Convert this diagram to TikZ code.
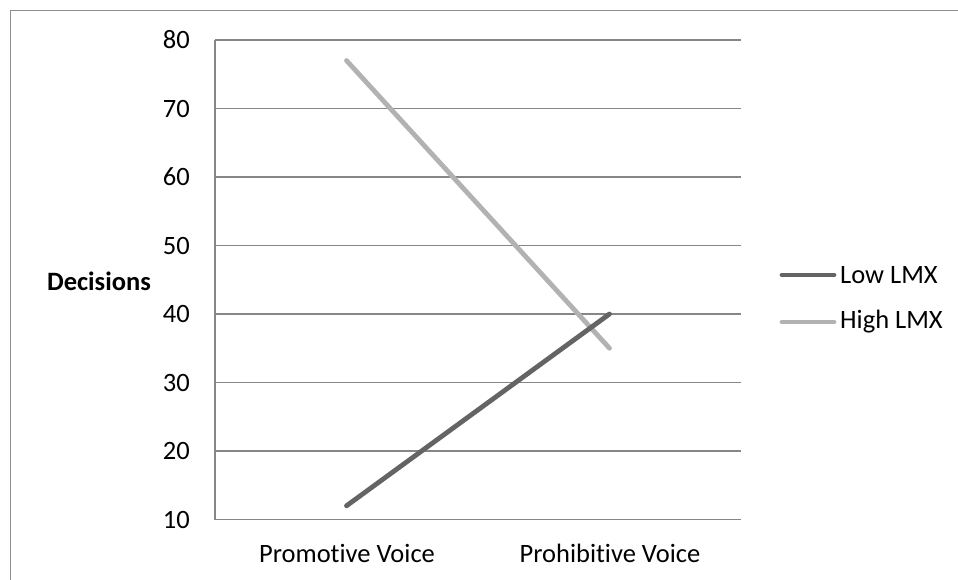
\documentclass[tikz,border=0pt]{standalone}
\usepackage{fontspec}
\setmainfont[RawFeature={-liga;-clig;-dlig}]{Carlito}
\definecolor{gridc}{HTML}{868686}
\definecolor{framec}{HTML}{8E8E8E}
\definecolor{lowc}{HTML}{646464}
\definecolor{highc}{HTML}{B2B2B2}
\begin{document}
\begin{tikzpicture}[x=1pt,y=-1pt,
  gridline/.style={draw=gridc,line width=1.3pt},
  frameline/.style={draw=framec,line width=1.6pt},
  series/.style={line width=4.8pt,line cap=round,line join=round},
  ticklab/.style={anchor=east,font=\fontsize{26.5}{30}\selectfont,inner sep=0pt},
  catlab/.style={anchor=center,font=\fontsize{26.5}{30}\selectfont,inner sep=0pt},
  leglab/.style={anchor=west,font=\fontsize{26.5}{30}\selectfont,inner sep=0pt}]
\useasboundingbox (0,0) rectangle (958,580);
% outer frame (top and left only visible)
\draw[frameline] (10.5,580) -- (10.5,10.5) -- (958,10.5);
% grid
\foreach \v [count=\i from 0] in {10,20,30,40,50,60,70,80}{
  \pgfmathsetmacro{\yy}{519.5-\i*68.5}
  \draw[gridline] (215,\yy) -- (741,\yy);
  \node[ticklab] (t\v) at (190,\yy) {\v};
}
\draw[gridline] (215,40) -- (215,519.5);
% axis labels
\node[anchor=center,font=\fontsize{26.5}{30}\selectfont\bfseries,inner sep=0pt] (ylab) at (99,281) {Decisions};
\node[catlab] (c1) at (347,553) {Promotive Voice};
\node[catlab] (c2) at (610,553) {Prohibitive Voice};
% data points
\coordinate (lowA) at (346.5,{519.5-0.2*68.5});
\coordinate (lowB) at (609.5,{519.5-3.0*68.5});
\coordinate (highA) at (346.5,{519.5-6.7*68.5});
\coordinate (highB) at (609.5,{519.5-2.5*68.5});
\draw[series,draw=highc] (highA) -- (highB);
\draw[series,draw=lowc] (lowA) -- (lowB);
% legend
\coordinate (l1a) at (782,275);
\coordinate (l1b) at (834,275);
\coordinate (l2a) at (782,322);
\coordinate (l2b) at (834,322);
\draw[series,draw=lowc] (l1a) -- (l1b);
\draw[series,draw=highc] (l2a) -- (l2b);
\node[leglab] (leg1) at (840,275) {Low LMX};
\node[leglab] (leg2) at (840,322) {High LMX};
\end{tikzpicture}
\end{document}
